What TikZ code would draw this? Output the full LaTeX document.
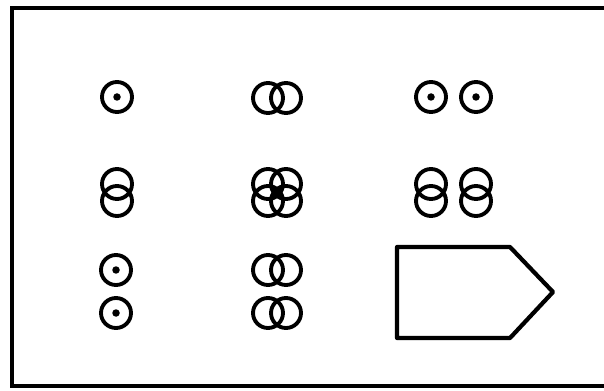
\documentclass[tikz,border=0pt]{standalone}
\usepackage{tikz}
\usetikzlibrary{positioning}

\begin{document}
\begin{tikzpicture}[x=0.02cm, y=-0.02cm,
	lamp/.style={circle, draw, line width=2.2pt, minimum size=0.6cm, inner sep=0pt},
	spot/.style={circle, fill, minimum size=0.15cm, inner sep=0pt},
	frame/.style={line width=2.6pt},
	stage/.style={line width=2.4pt, line join=round}]
	\useasboundingbox (0,0) rectangle (604,391);
	% Frame
	\coordinate (ftr) at (612,8);
	\coordinate (ftl) at (12,8);
	\coordinate (fbl) at (12,386);
	\coordinate (fbr) at (612,386);
	\draw[frame] (ftr) -- (ftl) -- (fbl) -- (fbr);
	% Top row
	\node[lamp] (a1) at (117,97) {};
	\node[lamp] (b1) at (268,98) {};
	\node[lamp] (b2) at (286,98) {};
	\node[lamp] (c1) at (431,97) {};
	\node[lamp] (c2) at (476,97) {};
	% Middle row
	\node[lamp] (d1) at (117,184) {};
	\node[lamp] (d2) at (117,201) {};
	\node[lamp] (e1) at (268,184) {};
	\node[lamp] (e2) at (286,184) {};
	\node[lamp] (e3) at (268,201) {};
	\node[lamp] (e4) at (286,201) {};
	\node[lamp] (f1) at (431,184) {};
	\node[lamp] (f2) at (431,201) {};
	\node[lamp] (f3) at (476,184) {};
	\node[lamp] (f4) at (476,201) {};
	% Bottom rows
	\node[lamp] (g1) at (116,270) {};
	\node[lamp] (g2) at (116,313) {};
	\node[lamp] (h1) at (268,270) {};
	\node[lamp] (h2) at (286,270) {};
	\node[lamp] (h3) at (268,313) {};
	\node[lamp] (h4) at (286,313) {};
	% Dots
	\foreach \n in {a1,c1,c2,g1,g2}
	\node[spot] (\n dot) at (\n.center) {};
	\node[spot, minimum size=0.08cm] (edot) at (277,192.5) {};
	% Stage
	\coordinate (s1) at (397,247);
	\coordinate (s2) at (510,247);
	\coordinate (s3) at (553,292);
	\coordinate (s4) at (510,338);
	\coordinate (s5) at (397,338);
	\draw[stage] (s1) -- (s2) -- (s3) -- (s4) -- (s5) -- cycle;
\end{tikzpicture}
\end{document}
